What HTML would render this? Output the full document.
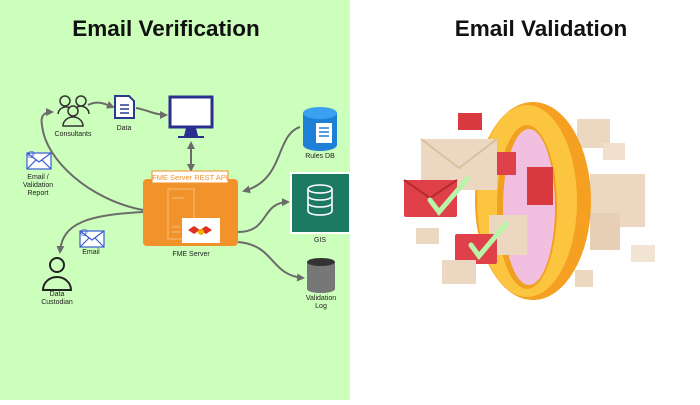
<!DOCTYPE html>
<html><head><meta charset="utf-8"><style>
body{margin:0;width:700px;height:400px;overflow:hidden;background:#fff;font-family:"Liberation Sans",sans-serif}
</style></head><body>
<svg width="700" height="400" viewBox="0 0 700 400" xmlns="http://www.w3.org/2000/svg">
<defs>
<marker id="a" markerWidth="8" markerHeight="8" refX="6" refY="4" orient="auto" markerUnits="userSpaceOnUse"><path d="M0,0 L8,4 L0,8 Z" fill="#6b6b6b"/></marker>
<marker id="b" markerWidth="8" markerHeight="8" refX="6" refY="4" orient="auto-start-reverse" markerUnits="userSpaceOnUse"><path d="M0,0 L8,4 L0,8 Z" fill="#6b6b6b"/></marker>
<g id="env"><rect x="0" y="0" width="24" height="16" fill="#fff" stroke="#3a5bd0" stroke-width="1.2"/><path d="M0,0 L12,9 L24,0 M0,16 L9,7 M24,16 L15,7" fill="none" stroke="#3a5bd0" stroke-width="1.2"/></g>
</defs>
<rect x="0" y="0" width="350" height="400" fill="#ccffbb"/>
<text x="166" y="36" text-anchor="middle" font-size="22.5" font-weight="bold" fill="#111">Email Verification</text>
<text x="541" y="36" text-anchor="middle" font-size="22.5" font-weight="bold" fill="#111">Email Validation</text>

<g fill="none" stroke="#6b6b6b" stroke-width="2">
<path d="M143,210 C90,200 45,160 42,125 C40,115 45,112 52,112" marker-end="url(#a)"/>
<path d="M88,105 C98,100 105,104 113,107" marker-end="url(#a)"/>
<path d="M136,108 C148,110 155,115 166,115" marker-end="url(#a)"/>
<path d="M191,143 L191,170" marker-start="url(#b)" marker-end="url(#b)"/>
<path d="M143,212 C90,215 62,222 60,252" marker-end="url(#a)"/>
<path d="M300,127 C275,135 285,180 244,191" marker-end="url(#a)"/>
<path d="M238,232 C270,232 260,203 288,202" marker-end="url(#a)"/>
<path d="M238,242 C275,245 270,275 303,278" marker-end="url(#a)"/>
</g>
<g fill="none" stroke="#333" stroke-width="1.5">
<circle cx="65" cy="101" r="5"/><circle cx="81" cy="101" r="5"/><circle cx="73" cy="111" r="5"/>
<path d="M58,114 a8,8 0 0 1 12,-6 M76,108 a8,8 0 0 1 13,6 M63,126 a10,9 0 0 1 20,0 z"/>
</g>
<text x="73" y="136" font-size="7" text-anchor="middle" fill="#222">Consultants</text>
<path d="M115,96 h14 l5,5 v17 h-19 z" fill="#fff" stroke="#2a3a8f" stroke-width="2"/>
<path d="M120,105 h9 M120,109 h9 M120,113 h9" stroke="#2a3a8f" stroke-width="1.6"/>
<text x="124" y="130" font-size="7" text-anchor="middle" fill="#222">Data</text>
<rect x="170" y="97" width="42" height="30" fill="#fff" stroke="#2a2e8f" stroke-width="3"/>
<path d="M186,128 h10 l2,8 h6 v2 h-26 v-2 h6z" fill="#2a2e8f"/>
<path d="M303,113 v32 a17,6 0 0 0 34,0 v-32z" fill="#1e7fd6"/><ellipse cx="320" cy="113" rx="17" ry="6" fill="#3aa0f0"/>
<rect x="316" y="123" width="16" height="20" fill="#fff"/><path d="M319,128h10M319,132h10M319,136h10" stroke="#1e7fd6" stroke-width="1.5"/>
<text x="320" y="158" font-size="7" text-anchor="middle" fill="#222">Rules DB</text>
<rect x="291" y="173" width="59" height="60" fill="#1c7a62" stroke="#fff" stroke-width="2"/>
<g fill="none" stroke="#fff" stroke-width="1.6"><ellipse cx="320" cy="189" rx="12" ry="4"/><path d="M308,189 v22 a12,4 0 0 0 24,0 v-22 M308,196 a12,4 0 0 0 24,0 M308,203 a12,4 0 0 0 24,0"/></g>
<text x="320" y="242" font-size="7" text-anchor="middle" fill="#222">GIS</text>
<path d="M307,262 v27 a14,4 0 0 0 28,0 v-27z" fill="#777"/><ellipse cx="321" cy="262" rx="14" ry="4" fill="#333"/>
<text x="321" y="300" font-size="7" text-anchor="middle" fill="#222">Validation</text>
<text x="321" y="308" font-size="7" text-anchor="middle" fill="#222">Log</text>
<rect x="143" y="179" width="95" height="67" rx="4" fill="#f2922a"/>
<rect x="152" y="171" width="76" height="12" fill="#fff" stroke="#f2922a"/>
<text x="190" y="180" font-size="7.5" text-anchor="middle" fill="#f2922a">FME Server REST API</text>
<rect x="168" y="189" width="26" height="50" fill="none" stroke="#f6b060" stroke-width="1.5"/>
<path d="M172,198h12 M172,227h8 M172,232h8" stroke="#f6b060" stroke-width="1.5"/>
<rect x="182" y="218" width="38" height="25" fill="#fff"/>
<path d="M188,230 l6,-4 l6,4 l6,-4 l6,4 l-6,4 l-6,-4 l-6,4z" fill="#e03020"/><circle cx="201" cy="232" r="3" fill="#f2b000"/>
<text x="191" y="256" font-size="7" text-anchor="middle" fill="#222">FME Server</text>
<use href="#env" x="27" y="153"/><text x="27" y="157" font-size="8" fill="#3a5bd0">@</text>
<text x="38" y="179" font-size="7" text-anchor="middle" fill="#222">Email /</text>
<text x="38" y="187" font-size="7" text-anchor="middle" fill="#222">Validation</text>
<text x="38" y="195" font-size="7" text-anchor="middle" fill="#222">Report</text>
<use href="#env" x="80" y="231"/><text x="80" y="235" font-size="8" fill="#3a5bd0">@</text>
<text x="91" y="254" font-size="7" text-anchor="middle" fill="#222">Email</text>
<g fill="none" stroke="#222" stroke-width="2"><circle cx="57" cy="265" r="7"/><path d="M43,290 a14,13 0 0 1 28,0z"/></g>
<text x="57" y="296" font-size="7" text-anchor="middle" fill="#222">Data</text>
<text x="57" y="304" font-size="7" text-anchor="middle" fill="#222">Custodian</text>

<g>
<rect x="577" y="119" width="33" height="29" fill="#ecd8c0"/><rect x="603" y="143" width="22" height="17" fill="#f0e0cc"/>
<rect x="590" y="174" width="55" height="53" fill="#ecd8c0"/><rect x="590" y="213" width="30" height="37" fill="#e6cfb5"/>
<rect x="631" y="245" width="24" height="17" fill="#f2e4d2"/><rect x="575" y="270" width="18" height="17" fill="#ecd8c0"/>
<ellipse cx="533" cy="201" rx="58" ry="99" fill="#f5a020"/>
<ellipse cx="527" cy="201" rx="50" ry="96" fill="#fcc540"/>
<ellipse cx="527" cy="207" rx="30" ry="82" fill="#f0a020"/>
<ellipse cx="529" cy="207" rx="26" ry="78" fill="#f2bfe0"/>
<rect x="458" y="113" width="24" height="17" fill="#d93a3f"/>
<rect x="421" y="139" width="76" height="51" rx="2" fill="#ecd8c0"/><path d="M421,139 L459,168 L497,139" fill="none" stroke="#d9bfa0" stroke-width="2"/>
<rect x="497" y="152" width="19" height="23" fill="#e0404a"/>
<rect x="527" y="167" width="26" height="38" fill="#d93a3f"/>
<rect x="404" y="180" width="53" height="37" rx="2" fill="#e0404a"/><path d="M404,180 L430,198 L457,180" fill="none" stroke="#b82a30" stroke-width="2"/>
<rect x="489" y="215" width="38" height="40" fill="#ecd8c0"/>
<rect x="416" y="228" width="23" height="16" fill="#ecd8c0"/>
<rect x="455" y="234" width="42" height="30" rx="2" fill="#e0404a"/>
<rect x="442" y="260" width="34" height="24" fill="#ecd8c0"/>
<path d="M430,200 l9,12 l29,-34" fill="none" stroke="#b8f5a8" stroke-width="5" stroke-linecap="round"/>
<path d="M471,245 l8,11 l27,-32" fill="none" stroke="#b8f5a8" stroke-width="5" stroke-linecap="round"/>
</g>
</svg>
</body></html>
